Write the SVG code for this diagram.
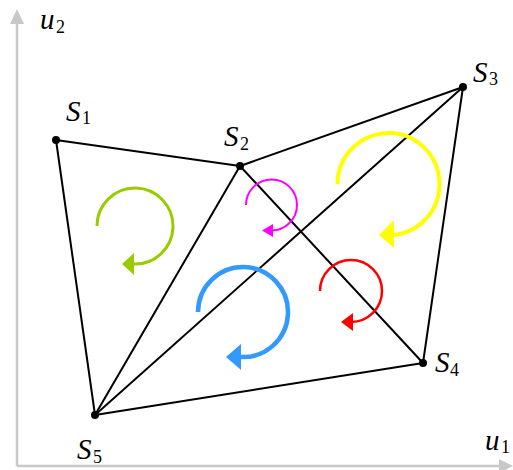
<svg xmlns="http://www.w3.org/2000/svg" width="513" height="470" viewBox="0 0 513 470">
<style>
.axis{stroke:#c8c8c8;stroke-width:2.5;fill:none}
.edge{stroke:#000;stroke-width:2;fill:none}
.lbl{font-style:italic;font-size:29px;fill:#000}
.sub{font-size:18px;fill:#000}
.arc{fill:none}
</style>
<rect width="513" height="470" fill="#fff"/>
<g id="axes" font-family="Liberation Serif">
<line class="axis" x1="17" y1="466" x2="17" y2="20"/>
<polygon points="17,9 10,24 24,24" fill="#c8c8c8"/>
<line class="axis" x1="17" y1="466" x2="502" y2="466"/>
<polygon points="513,466 499,459 499,473" fill="#c8c8c8"/>
<text class="lbl" x="40" y="29">u</text><text class="sub" x="56" y="33">2</text>
<text class="lbl" x="485" y="450">u</text><text class="sub" x="501" y="453">1</text>
</g>
<g id="connectors">
<line class="edge" x1="56" y1="140" x2="240" y2="166"/>
<line class="edge" x1="240" y1="166" x2="463" y2="87"/>
<line class="edge" x1="463" y1="87" x2="423" y2="363"/>
<line class="edge" x1="423" y1="363" x2="95" y2="415"/>
<line class="edge" x1="95" y1="415" x2="56" y2="140"/>
<line class="edge" x1="240" y1="166" x2="95" y2="415"/>
<line class="edge" x1="240" y1="166" x2="423" y2="363"/>
<line class="edge" x1="463" y1="87" x2="95" y2="415"/>
</g>
<g font-family="Liberation Serif">
<g id="S1"><circle cx="56" cy="140" r="4"/><text class="lbl" x="66" y="121">S</text><text class="sub" x="82" y="124">1</text></g>
<g id="S2"><circle cx="240" cy="166" r="4"/><text class="lbl" x="224" y="146">S</text><text class="sub" x="240" y="150">2</text></g>
<g id="S3"><circle cx="463" cy="87" r="4"/><text class="lbl" x="473" y="82">S</text><text class="sub" x="489" y="85">3</text></g>
<g id="S4"><circle cx="423" cy="363" r="4"/><text class="lbl" x="435" y="372">S</text><text class="sub" x="450" y="376">4</text></g>
<g id="S5"><circle cx="95" cy="415" r="4"/><text class="lbl" x="77" y="459">S</text><text class="sub" x="93" y="463">5</text></g>
</g>
<g id="rot-green"><path class="arc" d="M97 226 A38 38 0 1 1 133 264" stroke="#99cc00" stroke-width="3"/><polygon points="122,264 134,253 134,275" fill="#99cc00"/></g>
<g id="rot-blue"><path class="arc" d="M198 312 A45 45 0 1 1 240 357" stroke="#3399ff" stroke-width="4.5"/><polygon points="226,357 241,344 241,370" fill="#3399ff"/></g>
<g id="rot-magenta"><path class="arc" d="M246 205 A25.5 25.5 0 1 1 271 230.5" stroke="#ff00ff" stroke-width="2"/><polygon points="262,230.5 273,224 273,237" fill="#ff00ff"/></g>
<g id="rot-red"><path class="arc" d="M320 291 A31 31 0 1 1 351 322" stroke="#ff0000" stroke-width="2.5"/><polygon points="341,322 353,313 353,331" fill="#ff0000"/></g>
<g id="rot-yellow"><path class="arc" d="M337.5 184 A51 51 0 1 1 392 235" stroke="#ffff00" stroke-width="4"/><polygon points="379,235 394,220 394,248" fill="#ffff00"/></g>
</svg>
